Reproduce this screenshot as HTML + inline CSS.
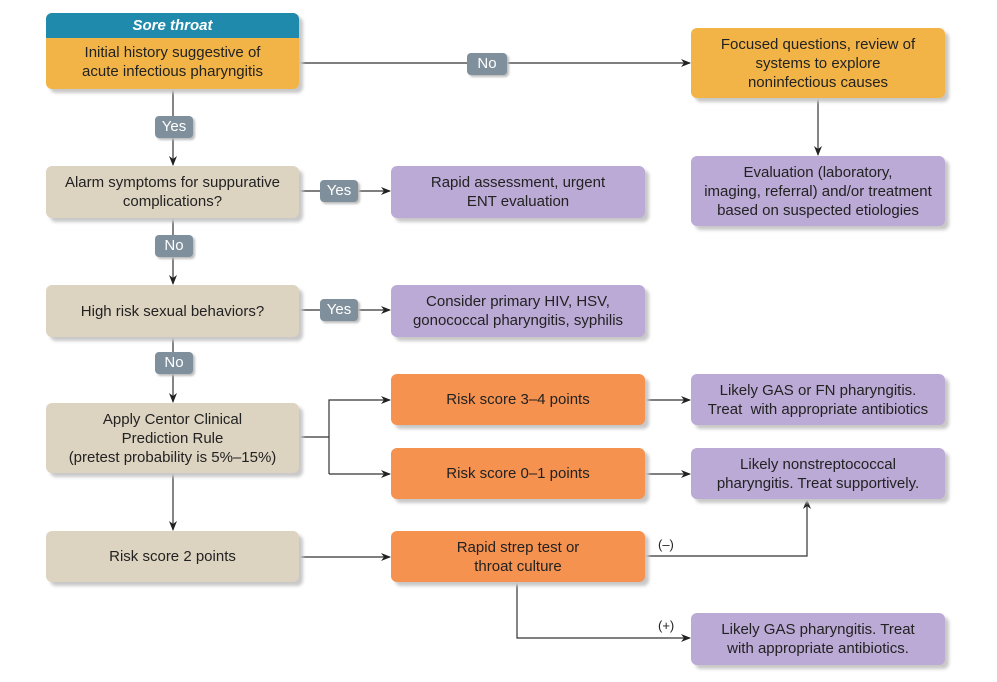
<!DOCTYPE html>
<html><head><meta charset="utf-8"><style>
body{margin:0;width:997px;height:682px;background:#fff;position:relative;overflow:hidden;font-family:"Liberation Sans",sans-serif;}
.b{position:absolute;display:flex;align-items:center;justify-content:center;text-align:center;font-size:15px;line-height:19px;color:#222;border-radius:6px;box-shadow:4px 4px 3px #c8c8c8;box-sizing:border-box;}
.y{background:#f2b447}.g{background:#ddd3c1}.p{background:#bbaad5}.o{background:#f5924f}
.l{position:absolute;background:#7f909c;color:#fff;font-size:15px;border-radius:4px;text-align:center;line-height:22px;box-shadow:2px 2px 2px #bbb;}
svg{position:absolute;left:0;top:0}
</style></head><body>
<svg width="997" height="682">
<defs><marker id="a" markerWidth="10" markerHeight="8" refX="9" refY="4" orient="auto" markerUnits="userSpaceOnUse"><path d="M0,0 L10,4 L0,8 L3,4z" fill="#222"/></marker></defs>
<g stroke="#333" stroke-width="1.2" fill="none">
<line x1="299" y1="63" x2="690" y2="63" marker-end="url(#a)"/>
<line x1="818" y1="98" x2="818" y2="155" marker-end="url(#a)"/>
<line x1="173" y1="89" x2="173" y2="165" marker-end="url(#a)"/>
<line x1="173" y1="218" x2="173" y2="284" marker-end="url(#a)"/>
<line x1="173" y1="337" x2="173" y2="402" marker-end="url(#a)"/>
<line x1="173" y1="473" x2="173" y2="530" marker-end="url(#a)"/>
<line x1="299" y1="191" x2="390" y2="191" marker-end="url(#a)"/>
<line x1="299" y1="310" x2="390" y2="310" marker-end="url(#a)"/>
<polyline points="299,437 329,437"/>
<polyline points="329,474 329,400 390,400" marker-end="url(#a)"/>
<polyline points="329,474 390,474" marker-end="url(#a)"/>
<line x1="645" y1="400" x2="690" y2="400" marker-end="url(#a)"/>
<line x1="645" y1="474" x2="690" y2="474" marker-end="url(#a)"/>
<line x1="299" y1="557" x2="390" y2="557" marker-end="url(#a)"/>
<polyline points="645,556 807,556 807,500" marker-end="url(#a)"/>
<polyline points="517,582 517,638 690,638" marker-end="url(#a)"/>
</g>
<text x="658" y="549" font-size="13" font-family="Liberation Sans" fill="#222">(–)</text>
<text x="658" y="630" font-size="13" font-family="Liberation Sans" fill="#222">(+)</text>
</svg>
<div class="b y" style="left:46px;top:13px;width:253px;height:76px;flex-direction:column;justify-content:flex-start;overflow:hidden">
<div style="background:#1f8aab;color:#fff;font-weight:bold;font-style:italic;width:100%;height:25px;line-height:25px">Sore throat</div>
<div style="margin-top:5px">Initial history suggestive of<br>acute infectious pharyngitis</div></div>
<div class="b y" style="left:691px;top:28px;width:254px;height:70px">Focused questions, review of<br>systems to explore<br>noninfectious causes</div>
<div class="b p" style="left:691px;top:156px;width:254px;height:70px">Evaluation (laboratory,<br>imaging, referral) and/or treatment<br>based on suspected etiologies</div>
<div class="b g" style="left:46px;top:166px;width:253px;height:52px">Alarm symptoms for suppurative<br>complications?</div>
<div class="b p" style="left:391px;top:166px;width:254px;height:52px">Rapid assessment, urgent<br>ENT evaluation</div>
<div class="b g" style="left:46px;top:285px;width:253px;height:52px">High risk sexual behaviors?</div>
<div class="b p" style="left:391px;top:285px;width:254px;height:52px">Consider primary HIV, HSV,<br>gonococcal pharyngitis, syphilis</div>
<div class="b g" style="left:46px;top:403px;width:253px;height:70px">Apply Centor Clinical<br>Prediction Rule<br>(pretest probability is 5%–15%)</div>
<div class="b o" style="left:391px;top:374px;width:254px;height:51px">Risk score 3–4 points</div>
<div class="b p" style="left:691px;top:374px;width:254px;height:51px">Likely GAS or FN pharyngitis.<br>Treat &nbsp;with appropriate antibiotics</div>
<div class="b o" style="left:391px;top:448px;width:254px;height:51px">Risk score 0–1 points</div>
<div class="b p" style="left:691px;top:448px;width:254px;height:51px">Likely nonstreptococcal<br>pharyngitis. Treat supportively.</div>
<div class="b g" style="left:46px;top:531px;width:253px;height:51px">Risk score 2 points</div>
<div class="b o" style="left:391px;top:531px;width:254px;height:51px">Rapid strep test or<br>throat culture</div>
<div class="b p" style="left:691px;top:613px;width:254px;height:52px">Likely GAS pharyngitis. Treat<br>with appropriate antibiotics.</div>
<div class="l" style="left:467px;top:53px;width:40px">No</div>
<div class="l" style="left:155px;top:116px;width:38px">Yes</div>
<div class="l" style="left:320px;top:180px;width:38px">Yes</div>
<div class="l" style="left:155px;top:235px;width:38px">No</div>
<div class="l" style="left:320px;top:299px;width:38px">Yes</div>
<div class="l" style="left:155px;top:352px;width:38px">No</div>
</body></html>
